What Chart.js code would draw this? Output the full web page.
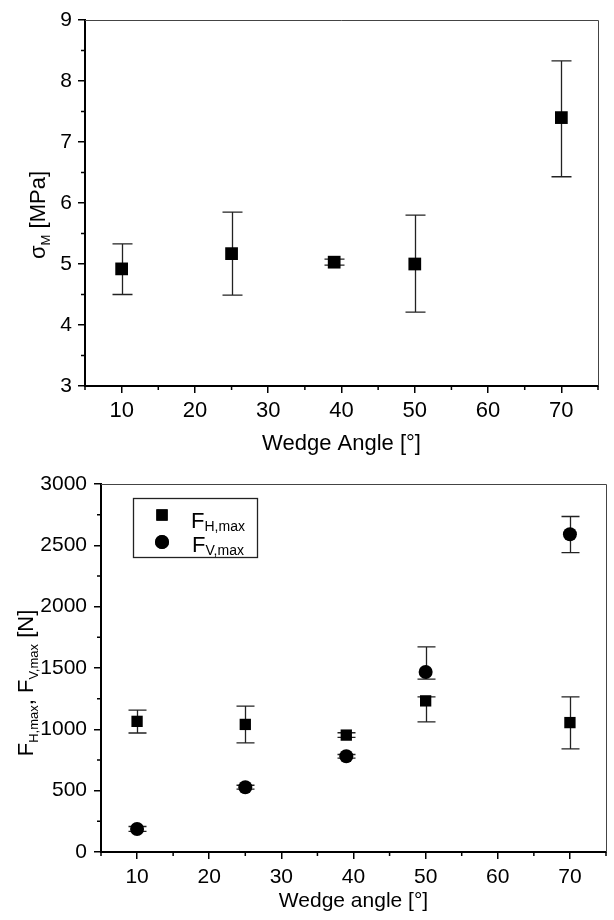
<!DOCTYPE html>
<html>
<head>
<meta charset="utf-8">
<script src="https://cdn.jsdelivr.net/npm/chart.js@4.4.1/dist/chart.umd.min.js"></script>
<style>
  html, body { margin: 0; padding: 0; background: #fff; }
  #wrap { position: relative; width: 614px; height: 920px; }
  canvas { position: absolute; left: 0; }
  #top { top: 0; }
  #bottom { top: 460px; }
</style>
</head>
<body>
<div id="wrap">
  <canvas id="top" width="614" height="460"></canvas>
  <canvas id="bottom" width="614" height="460"></canvas>
</div>
<script>
// wedge angles (x) shared by both panels
const angles = [10, 25, 39, 50, 70];
const angleTicks = [10, 20, 30, 40, 50, 60, 70];

// top panel: sigma_M [MPa]
const stressMean = [4.92, 5.17, 5.03, 5.00, 7.40];
const stressLow  = [4.50, 4.49, 4.98, 4.21, 6.43];
const stressHigh = [5.33, 5.85, 5.08, 5.80, 8.33];
const stressTicks = [3, 4, 5, 6, 7, 8, 9];

// bottom panel: max forces [N]
const forceH     = [1065, 1040, 953, 1232, 1055];
const forceHLow  = [970, 890, 935, 1060, 840];
const forceHHigh = [1157, 1190, 972, 1265, 1265];
const forceV     = [188, 528, 780, 1468, 2590];
const forceVLow  = [168, 512, 765, 1410, 2440];
const forceVHigh = [208, 544, 795, 1672, 2735];
const forceTicks = [0, 500, 1000, 1500, 2000, 2500, 3000];

const FONT = 'Arial, "Liberation Sans", sans-serif';

function points(ys) {
  return angles.map((x, i) => ({ x: x, y: ys[i] }));
}

// draws a line of text made of parts with different sizes / offsets (subscripts)
function drawRich(ctx, parts, cx, cy, rotate) {
  ctx.save();
  ctx.translate(cx, cy);
  if (rotate) ctx.rotate(-Math.PI / 2);
  ctx.textBaseline = 'alphabetic';
  ctx.textAlign = 'left';
  ctx.fillStyle = '#000';
  let total = 0;
  parts.forEach(p => {
    ctx.font = p.size + 'px ' + FONT;
    p.w = ctx.measureText(p.t).width;
    total += p.w;
  });
  let x = -total / 2;
  parts.forEach(p => {
    ctx.font = p.size + 'px ' + FONT;
    ctx.fillText(p.t, x, p.dy || 0);
    x += p.w;
  });
  ctx.restore();
}

const errorBars = {
  id: 'errorBars',
  beforeDatasetsDraw(chart, args, opts) {
    const ctx = chart.ctx;
    const xs = chart.scales.x, ys = chart.scales.y;
    ctx.save();
    ctx.strokeStyle = '#222';
    ctx.lineWidth = 1.3;
    chart.data.datasets.forEach(ds => {
      ds.errLow.forEach((lo, i) => {
        const px = Math.round(xs.getPixelForValue(angles[i])) + 0.5;
        const y1 = ys.getPixelForValue(lo);
        const y2 = ys.getPixelForValue(ds.errHigh[i]);
        const w = opts.cap;
        ctx.beginPath();
        ctx.moveTo(px, y1); ctx.lineTo(px, y2);
        ctx.moveTo(px - w, y1); ctx.lineTo(px + w, y1);
        ctx.moveTo(px - w, y2); ctx.lineTo(px + w, y2);
        ctx.stroke();
      });
    });
    ctx.restore();
  }
};

const frameAndMinor = {
  id: 'frameAndMinor',
  afterDraw(chart, args, opts) {
    const ctx = chart.ctx;
    const a = chart.chartArea;
    const xs = chart.scales.x, ys = chart.scales.y;
    ctx.save();
    // thin top / right frame
    ctx.strokeStyle = '#444';
    ctx.lineWidth = 1;
    ctx.beginPath();
    ctx.moveTo(a.left, a.top + 0.5); ctx.lineTo(a.right + 0.5, a.top + 0.5);
    ctx.lineTo(a.right + 0.5, a.bottom);
    ctx.stroke();
    // minor ticks
    ctx.strokeStyle = '#000';
    ctx.lineWidth = 1.5;
    ctx.beginPath();
    opts.minorX.forEach(v => {
      const px = xs.getPixelForValue(v);
      ctx.moveTo(px, a.bottom); ctx.lineTo(px, a.bottom + 4);
    });
    opts.minorY.forEach(v => {
      const py = ys.getPixelForValue(v);
      ctx.moveTo(a.left, py); ctx.lineTo(a.left - 4, py);
    });
    ctx.stroke();
    ctx.restore();
    // axis titles
    const cxArea = (a.left + a.right) / 2;
    drawRich(ctx, opts.xTitle, cxArea, opts.xTitleY, false);
    drawRich(ctx, opts.yTitle, opts.yTitleX, opts.yTitleY, true);
    if (opts.legend) opts.legend(chart);
  }
};

function axisCommon(tickFont, pad) {
  return {
    type: 'linear',
    grid: { drawOnChartArea: false, drawTicks: true, tickLength: 7, color: '#000', lineWidth: 1.5 },
    border: { display: true, color: '#000', width: 2 },
    ticks: { color: '#000', font: { family: FONT, size: tickFont }, padding: pad, callback: v => String(v) },
    title: { display: false }
  };
}

function makeScales(yMin, yMax, yTicks, yWidth, xHeight, xFont, yFont, xPad, yPad) {
  const x = axisCommon(xFont, xPad);
  x.min = 5; x.max = 75;
  x.afterBuildTicks = s => { s.ticks = angleTicks.map(v => ({ value: v })); };
  x.afterFit = s => { s.height = xHeight; };
  const y = axisCommon(yFont, yPad);
  y.min = yMin; y.max = yMax;
  y.afterBuildTicks = s => { s.ticks = yTicks.map(v => ({ value: v })); };
  y.afterFit = s => { s.width = yWidth; };
  return { x: x, y: y };
}

const minorAngles = [5, 15, 25, 35, 45, 55, 65, 75];

new Chart(document.getElementById('top'), {
  type: 'scatter',
  data: {
    datasets: [{
      label: 'sigmaM',
      data: points(stressMean),
      errLow: stressLow, errHigh: stressHigh,
      pointStyle: 'rect', pointRadius: 9, pointHoverRadius: 9,
      backgroundColor: '#000', borderColor: '#000', borderWidth: 0
    }]
  },
  options: {
    responsive: false,
    animation: false,
    layout: { padding: { top: 20, right: 16, left: 0, bottom: 0 } },
    scales: makeScales(3, 9, stressTicks, 85, 74, 22, 21, 5, 6),
    plugins: {
      legend: { display: false },
      tooltip: { enabled: false },
      errorBars: { cap: 10 },
      frameAndMinor: {
        minorX: minorAngles,
        minorY: [3.5, 4.5, 5.5, 6.5, 7.5, 8.5],
        xTitle: [{ t: 'Wedge Angle [°]', size: 22 }],
        xTitleY: 450,
        yTitle: [{ t: 'σ', size: 22 }, { t: 'M', size: 13, dy: 5 }, { t: ' [MPa]', size: 22 }],
        yTitleX: 45, yTitleY: 215
      }
    }
  },
  plugins: [errorBars, frameAndMinor]
});

new Chart(document.getElementById('bottom'), {
  type: 'scatter',
  data: {
    datasets: [{
      label: 'FH,max',
      data: points(forceH),
      errLow: forceHLow, errHigh: forceHHigh,
      pointStyle: 'rect', pointRadius: 8, pointHoverRadius: 8,
      backgroundColor: '#000', borderColor: '#000', borderWidth: 0
    }, {
      label: 'FV,max',
      data: points(forceV),
      errLow: forceVLow, errHigh: forceVHigh,
      pointStyle: 'circle', pointRadius: 7, pointHoverRadius: 7,
      backgroundColor: '#000', borderColor: '#000', borderWidth: 0
    }]
  },
  options: {
    responsive: false,
    animation: false,
    layout: { padding: { top: 24, right: 1, left: 0, bottom: 0 } },
    scales: makeScales(0, 3000, forceTicks, 101, 68, 21, 21, 6, 7),
    plugins: {
      legend: { display: false },
      tooltip: { enabled: false },
      errorBars: { cap: 9 },
      frameAndMinor: {
        minorX: minorAngles,
        minorY: [250, 750, 1250, 1750, 2250, 2750],
        xTitle: [{ t: 'Wedge angle [°]', size: 21 }],
        xTitleY: 447,
        yTitle: [
          { t: 'F', size: 22 }, { t: 'H,max', size: 13, dy: 5 },
          { t: ', F', size: 22 }, { t: 'V,max', size: 13, dy: 5 },
          { t: ' [N]', size: 22 }
        ],
        yTitleX: 33, yTitleY: 223,
        legend: chart => {
          const ctx = chart.ctx;
          ctx.save();
          ctx.strokeStyle = '#222';
          ctx.lineWidth = 1.3;
          ctx.strokeRect(133.5, 38.5, 124, 59);
          const rows = [[0, 55, 'H,max', 68], [1, 82, 'V,max', 92]];
          rows.forEach(r => {
            const ds = chart.data.datasets[r[0]];
            ctx.fillStyle = '#000';
            Chart.helpers.drawPoint(ctx, {
              pointStyle: ds.pointStyle, radius: ds.pointRadius, rotation: 0, borderWidth: 0
            }, 162, r[1]);
            ctx.fill();
            drawRich(ctx, [{ t: 'F', size: 22 }, { t: r[2], size: 14, dy: 3 }], 218, r[3], false);
          });
          ctx.restore();
        }
      }
    }
  },
  plugins: [errorBars, frameAndMinor]
});
</script>
</body>
</html>
